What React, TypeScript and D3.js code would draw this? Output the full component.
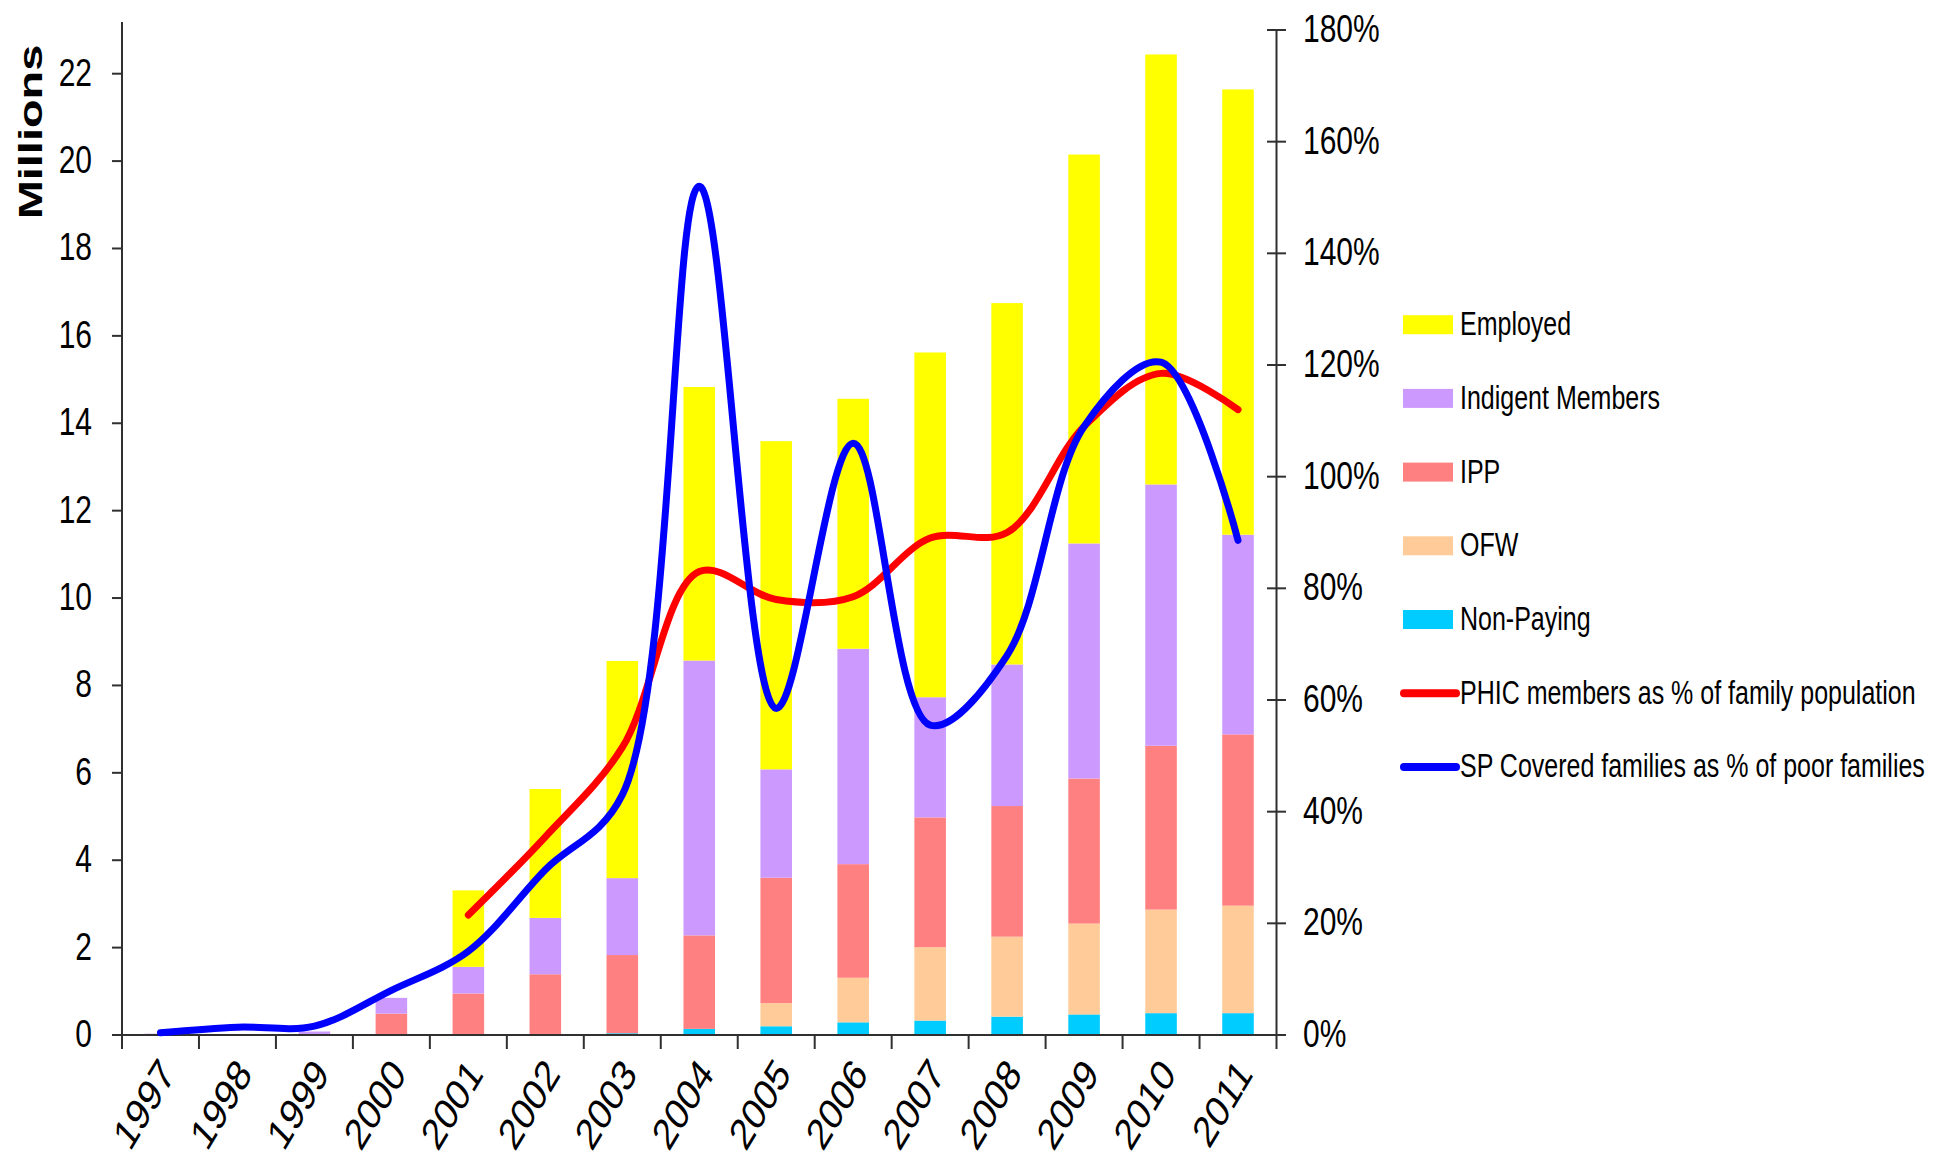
import React, { useEffect, useRef } from "react";
import * as d3 from "d3";

const years = ["1997", "1998", "1999", "2000", "2001", "2002", "2003", "2004", "2005", "2006", "2007", "2008", "2009", "2010", "2011"];
// millions of members, stacked from the bottom
const nonPaying = [0, 0, 0, 0, 0, 0, 0.04, 0.14, 0.2, 0.29, 0.33, 0.42, 0.47, 0.5, 0.5];
const ofw = [0, 0, 0, 0, 0, 0, 0, 0, 0.53, 1.02, 1.68, 1.83, 2.08, 2.37, 2.46];
const ipp = [0, 0, 0, 0.49, 0.95, 1.39, 1.79, 2.14, 2.87, 2.6, 2.97, 2.99, 3.32, 3.75, 3.92];
const indigent = [0.03, 0, 0.08, 0.36, 0.61, 1.29, 1.76, 6.29, 2.48, 4.93, 2.75, 3.24, 5.38, 5.98, 4.57];
const employed = [0, 0, 0, 0, 1.75, 2.95, 4.97, 6.26, 7.51, 5.72, 7.89, 8.27, 8.9, 9.84, 10.19];
// percentages, right axis
const phicPct = [null, null, null, null, 21.5, 35.5, 51.5, 83, 78, 78.5, 89, 90, 109, 118.5, 112];
const spPct = [0.4, 1.4, 1.6, 8, 15, 29.6, 43, 152, 58.5, 106, 55.5, 68, 109, 120.5, 88.6];

const leftTicks = [0, 2, 4, 6, 8, 10, 12, 14, 16, 18, 20, 22];
const rightTicks = [0, 20, 40, 60, 80, 100, 120, 140, 160, 180];

const barSeries = [
  { key: "nonPaying", label: "Non-Paying", color: "#00ccff", values: nonPaying },
  { key: "ofw", label: "OFW", color: "#ffcc99", values: ofw },
  { key: "ipp", label: "IPP", color: "#ff8080", values: ipp },
  { key: "indigent", label: "Indigent Members", color: "#cc99ff", values: indigent },
  { key: "employed", label: "Employed", color: "#ffff00", values: employed },
];
const lineSeries = [
  { label: "PHIC members as % of family population", color: "#ff0000", values: phicPct },
  { label: "SP Covered families as % of poor families", color: "#0000ff", values: spPct },
];

const W = 1948;
const H = 1163;
const FONT = "'Liberation Sans', Arial, sans-serif";
const STRETCH = 1.3;

export default function App() {
  const ref = useRef<SVGSVGElement>(null);

  useEffect(() => {
    const svg = d3.select(ref.current);
    svg.selectAll("*").remove();

    const left = 122, right = 1276.5, top = 30, bottom = 1035;

    const x = d3.scaleBand().domain(years).range([left, right]).padding(0);
    const yL = d3.scaleLinear().domain([0, 23]).range([bottom, top]);
    const yR = d3.scaleLinear().domain([0, 180]).range([bottom, top]);
    const barW = x.bandwidth() * 0.41;
    const cx = (yr: string) => (x(yr) as number) + x.bandwidth() / 2;

    const txt = (g: any, tx: number, ty: number, s: string, size: number, anchor: string, rot = 0) =>
      g.append("text")
        .attr("transform", `translate(${tx},${ty}) scale(1,${STRETCH}) rotate(${rot})`)
        .attr("font-family", FONT)
        .attr("font-size", size)
        .attr("text-anchor", anchor)
        .attr("fill", "#000")
        .text(s);

    // bars
    const table = years.map((yr, i) => {
      const row: any = { year: yr };
      barSeries.forEach((s) => (row[s.key] = s.values[i]));
      return row;
    });
    const stacked = d3.stack().keys(barSeries.map((s) => s.key))(table);
    stacked.forEach((layer, li) => {
      svg.append("g")
        .attr("fill", barSeries[li].color)
        .selectAll("rect")
        .data(layer)
        .enter()
        .append("rect")
        .attr("x", (d: any) => cx(d.data.year) - barW / 2)
        .attr("width", barW)
        .attr("y", (d: any) => yL(d[1]))
        .attr("height", (d: any) => Math.max(0, yL(d[0]) - yL(d[1])));
    });

    // axes
    const ax = svg.append("g").attr("stroke", "#303030").attr("stroke-width", 2);
    ax.append("line").attr("x1", left).attr("x2", left).attr("y1", top - 8).attr("y2", bottom);
    ax.append("line").attr("x1", right).attr("x2", right).attr("y1", top).attr("y2", bottom + 14);
    ax.append("line").attr("x1", left - 10).attr("x2", right).attr("y1", bottom).attr("y2", bottom);
    leftTicks.forEach((t) => {
      ax.append("line").attr("x1", left - 10).attr("x2", left).attr("y1", yL(t)).attr("y2", yL(t));
    });
    rightTicks.forEach((t) => {
      ax.append("line").attr("x1", right - 9.5).attr("x2", right + 9.5).attr("y1", yR(t)).attr("y2", yR(t));
    });
    years.forEach((yr) => {
      const xx = x(yr) as number;
      ax.append("line").attr("x1", xx).attr("x2", xx).attr("y1", bottom).attr("y2", bottom + 14);
    });

    const labels = svg.append("g");
    leftTicks.forEach((t) => txt(labels, 92, yL(t) + 12, String(t), 30, "end"));
    rightTicks.forEach((t) => txt(labels, 1303, yR(t) + 12, `${t}%`, 30, "start"));
    years.forEach((yr) => txt(labels, cx(yr) + 16, bottom + 40, yr, 34, "end", -52));

    // Millions
    svg.append("text")
      .attr("transform", `translate(42,132) rotate(-90) scale(1.42,1)`)
      .attr("font-family", FONT)
      .attr("font-size", 33)
      .attr("font-weight", "bold")
      .attr("text-anchor", "middle")
      .text("Millions");

    // lines
    lineSeries.forEach((s) => {
      const line = d3.line<any>()
        .defined((d) => d != null)
        .x((d, i) => cx(years[i]))
        .y((d) => yR(d))
        .curve(d3.curveCatmullRom.alpha(0.5));
      svg.append("path")
        .attr("d", line(s.values as any))
        .attr("fill", "none")
        .attr("stroke", s.color)
        .attr("stroke-width", 7)
        .attr("stroke-linecap", "round")
        .attr("stroke-linejoin", "round");
    });

    // legend
    const lg = svg.append("g");
    const legendItems = [
      ...barSeries.slice().reverse().map((s) => ({ label: s.label, color: s.color, kind: "bar" })),
      ...lineSeries.map((s) => ({ label: s.label, color: s.color, kind: "line" })),
    ];
    legendItems.forEach((it, i) => {
      const cy = 324.7 + i * 73.7;
      if (it.kind === "bar") {
        lg.append("rect").attr("x", 1403).attr("y", cy - 9.5).attr("width", 50).attr("height", 19).attr("fill", it.color);
      } else {
        lg.append("line").attr("x1", 1404).attr("x2", 1456).attr("y1", cy).attr("y2", cy)
          .attr("stroke", it.color).attr("stroke-width", 8).attr("stroke-linecap", "round");
      }
      txt(lg, 1460, cy + 10.5, it.label, 25, "start");
    });
  }, []);

  return (
    <div style={{ position: "absolute", left: 0, top: 0, background: "#fff" }}>
      <svg ref={ref} width={W} height={H} style={{ display: "block" }} />
    </div>
  );
}
